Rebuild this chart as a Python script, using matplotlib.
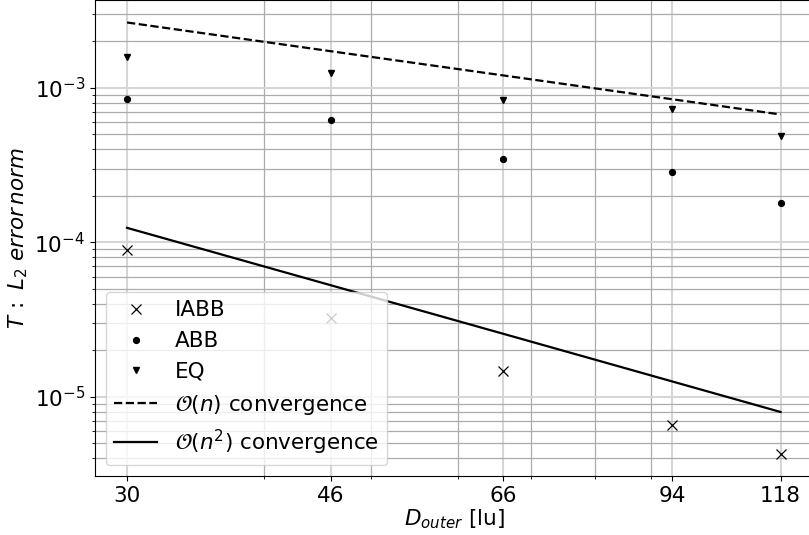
import numpy as np
import matplotlib
matplotlib.use('Agg')
import matplotlib.pyplot as plt

# Outer diameters [lu]
d_outer = [30, 46, 66, 94, 118]

# L2 error norms
err_iabb = [8.9e-5, 3.25e-5, 1.47e-5, 6.6e-6, 4.25e-6]
err_abb = [8.4e-4, 6.15e-4, 3.45e-4, 2.85e-4, 1.8e-4]
err_eq = [1.58e-3, 1.24e-3, 8.35e-4, 7.3e-4, 4.9e-4]

# reference slopes
ref_order1 = [2.64e-3, 1.72e-3, 1.20e-3, 8.42e-4, 6.71e-4]
ref_order2 = [1.24e-4, 5.27e-5, 2.56e-5, 1.26e-5, 7.99e-6]

fs = 15.5

fig = plt.figure(figsize=(8.09, 5.35), dpi=100)
ax = fig.add_axes([95 / 809, 59 / 535, 718 / 809, 476 / 535])

ax.plot(d_outer, err_iabb, 'x', color='black', ms=6.5, mew=0.9, label='IABB')
ax.plot(d_outer, err_abb, 'o', color='black', ms=4.2, label='ABB')
ax.plot(d_outer, err_eq, 'v', color='black', ms=4.5, label='EQ')
ax.plot(d_outer, ref_order1, '--', color='black', lw=1.6, label=r'$\mathcal{O}(n)$ convergence')
ax.plot(d_outer, ref_order2, '-', color='black', lw=1.6, label=r'$\mathcal{O}(n^2)$ convergence')

ax.set_xscale('log')
ax.set_yscale('log')
ax.set_xlim(28.05, 126.3)
ax.set_ylim(3.08e-6, 3.69e-3)
ax.set_xticks(d_outer)
ax.set_xticklabels([str(d) for d in d_outer])
ax.xaxis.set_minor_formatter(matplotlib.ticker.NullFormatter())

ax.grid(which='major', color='#d6d6d6', linewidth=1.5)
ax.grid(which='minor', color='#ababab', linewidth=0.9)
ax.set_axisbelow(True)

ax.tick_params(axis='both', which='major', labelsize=fs)
ax.set_xlabel(r'$D_{outer}$ [lu]', fontsize=fs, labelpad=1)
ax.set_ylabel(r'$T\,:\ L_2\ error\,norm$', fontsize=fs, labelpad=3)

ax.legend(loc='lower left', fontsize=fs)

fig.savefig('out.png', dpi=100)
